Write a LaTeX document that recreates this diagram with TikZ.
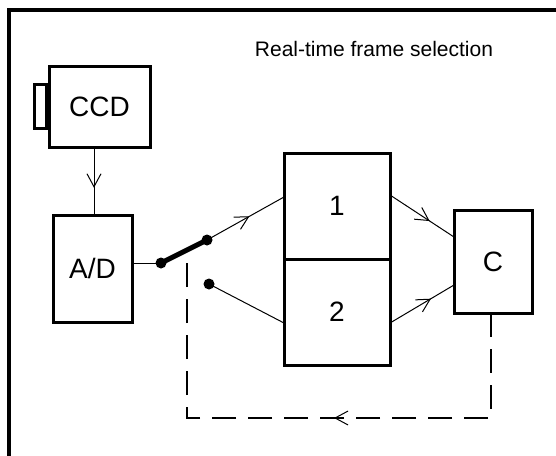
\documentclass[tikz,border=0pt]{standalone}
\usepackage{fontspec}
\setmainfont{Liberation Sans}
\usetikzlibrary{arrows.meta,decorations.markings}
\tikzset{
  box/.style={draw,line width=3pt,inner sep=0pt,font=\fontsize{28}{32}\selectfont},
  thin/.style={line width=1pt},
  midarrow/.style={postaction={decorate,decoration={markings,
     mark=at position #1 with {\arrow{Straight Barb[length=13pt,width=14pt,line width=1pt]}}}}},
  dot/.style={circle,fill,inner sep=0pt,minimum size=11pt},
  feedback/.style={line width=1.2pt,dash pattern=on 24pt off 12pt},
}
\begin{document}
\begin{tikzpicture}[x=1pt,y=-1pt]
\useasboundingbox (0,0) rectangle (556,455);
\clip (0,0) rectangle (556,455);
\draw[line width=3.5pt] (9,10) rectangle (580,480);
\node[font=\fontsize{21}{25}\selectfont] (title) at (374,49) {Real-time frame selection};
% boxes
\node[box,minimum width=101pt,minimum height=81pt] (ccd) at (99.5,106.5) {CCD};
\node[box,minimum width=12pt,minimum height=44pt,anchor=east] (tab) at (ccd.west) {};
\node[box,minimum width=79pt,minimum height=107pt] (ad) at (92.5,268.5) {A/D};
\node[box,minimum width=106pt,minimum height=106pt] (b1) at (337,206) {1};
\node[box,minimum width=106pt,minimum height=106pt] (b2) at (337,312) {2};
\node[box,minimum width=78pt,minimum height=103pt] (c) at (493,261.5) {C};
% switch
\node[dot] (pivot) at (161,263) {};
\node[dot] (up) at (207,240) {};
\node[dot] (low) at (209,284) {};
\coordinate (tap) at (187,250);
\coordinate (in1) at (284,197);
\coordinate (in2) at (284,323);
\coordinate (out1) at (390,195);
\coordinate (out2) at (390,323);
\coordinate (cin1) at (454,237);
\coordinate (cin2) at (454,285);
\coordinate (cbot) at (491,313);
\coordinate (br) at (491,418);
\coordinate (bl) at (187,418);
% connectors
\draw[thin,midarrow=0.6] (94,147) -- (94,215);
\draw[thin] (ad.east |- pivot) -- (pivot.center);
\draw[line width=5pt] (pivot.center) -- (up.center);
\draw[thin,midarrow=0.55] (up.center) -- (in1);
\draw[thin] (low.center) -- (in2);
\draw[thin,midarrow=0.62] (out1) -- (cin1);
\draw[thin,midarrow=0.64] (out2) -- (cin2);
\draw[feedback,midarrow=0.454] (cbot) -- (br) -- (bl) -- (tap);
\end{tikzpicture}
\end{document}
